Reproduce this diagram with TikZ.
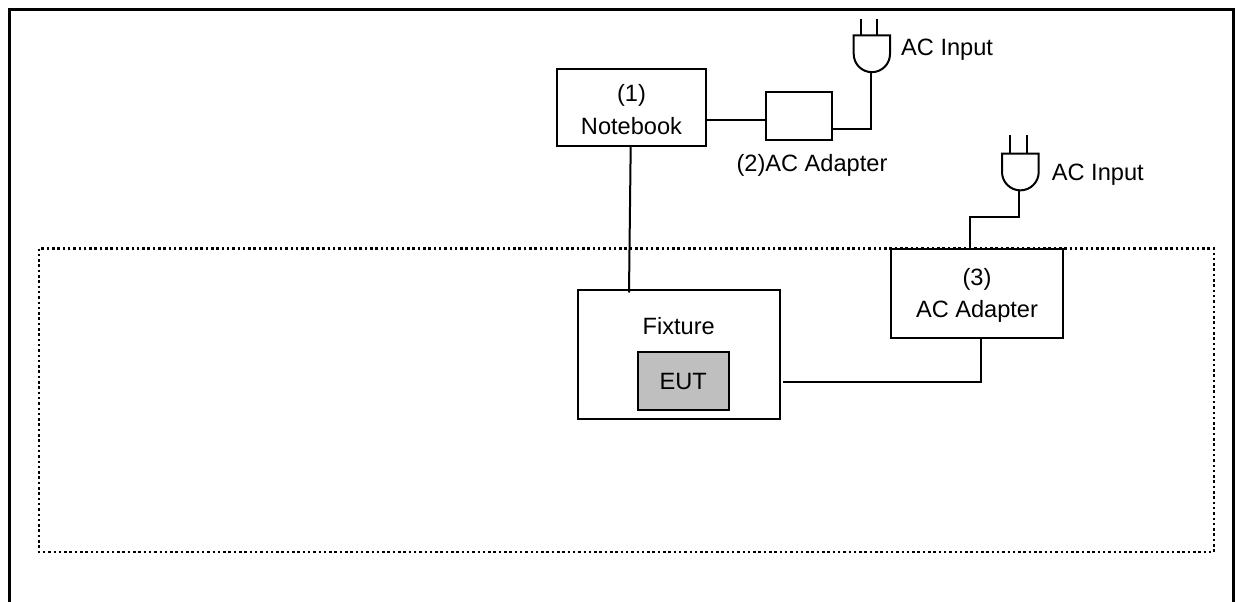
\documentclass[tikz,border=0pt]{standalone}
\usepackage{fontspec}
\setmainfont{Liberation Sans}
\newcommand{\lowr}[2]{\raisebox{-#1pt}[0pt][0pt]{#2}}
\tikzset{
  frameline/.style={line width=3pt,line cap=butt},
  wire/.style={line width=2pt},
  boxn/.style={draw=black,line width=2pt,fill=white,inner sep=0pt,align=center,font=\fontsize{23.6}{32}\selectfont},
  lbl/.style={inner sep=0pt,align=center,font=\fontsize{23.6}{32}\selectfont},
  dots/.style={line width=2.5pt,dash pattern=on 2.5pt off 2.8pt}
}
\begin{document}
\begin{tikzpicture}[x=1pt,y=-1pt]
\useasboundingbox (0,0) rectangle (1237,602);
\draw[frameline] (9.5,602) -- (9.5,9.5) -- (1233.5,9.5) -- (1233.5,602);
\draw[dots] (39,248.5) rectangle (1214,552);
\node[boxn,minimum width=149pt,minimum height=77pt] (nb) at (631.5,107.5) {\lowr{10.5}{(1)}\\\lowr{10.5}{Notebook}};
\node[boxn,minimum width=66pt,minimum height=48pt] (ad2) at (799,115.5) {};
\node[lbl,anchor=base] (l2) at (812,171) {(2)AC Adapter};
\node[boxn,minimum width=202pt,minimum height=129pt] (fx) at (678.5,354.5) {};
\node[lbl,anchor=base] (fxl) at (678.7,334) {Fixture};
\node[boxn,fill=gray!50!white,minimum width=91pt,minimum height=58.6pt] (eut) at (683.2,381) {\lowr{8.7}{EUT}};
\node[boxn,minimum width=171.4pt,minimum height=89pt] (ad3) at (977,293.8) {\lowr{7.3}{(3)}\\\lowr{7.3}{AC Adapter}};
\node[lbl,anchor=base west] (in1) at (901,55.5) {AC Input};
\node[lbl,anchor=base west] (in2) at (1051.7,180.3) {AC Input};
% plugs
\coordinate (p1) at (871,72.2);
\draw[wire] (861.3,19) -- (861.3,35.5) (877.3,19) -- (877.3,35.5);
\draw[wire] (853.7,35.5) -- (890,35.5) -- (890,54) arc (0:180:18.15) -- cycle;
\coordinate (p2) at (1019.3,190);
\draw[wire] (1010.3,135) -- (1010.3,153.5) (1026.7,135) -- (1026.7,153.5);
\draw[wire] (1002,153.5) -- (1038.7,153.5) -- (1038.7,172) arc (0:180:18.35) -- cycle;
% wires
\coordinate (a) at (706,119.7);
\coordinate (b) at (766,119.7);
\draw[wire] (a) -- (b);
\coordinate (c) at (832,128.5);
\coordinate (d) at (871,128.5);
\draw[wire] (c) -- (d) -- (p1);
\coordinate (e) at (630.7,146);
\coordinate (f) at (629,292.5);
\draw[wire] (e) -- (f);
\coordinate (g) at (1019.3,216.7);
\coordinate (h) at (970,216.7);
\coordinate (i) at (970,249.3);
\draw[wire] (p2) -- (g) -- (h) -- (i);
\coordinate (j) at (782.7,382);
\coordinate (k) at (981,382);
\coordinate (m) at (981,338.3);
\draw[wire] (j) -- (k) -- (m);
\end{tikzpicture}
\end{document}
